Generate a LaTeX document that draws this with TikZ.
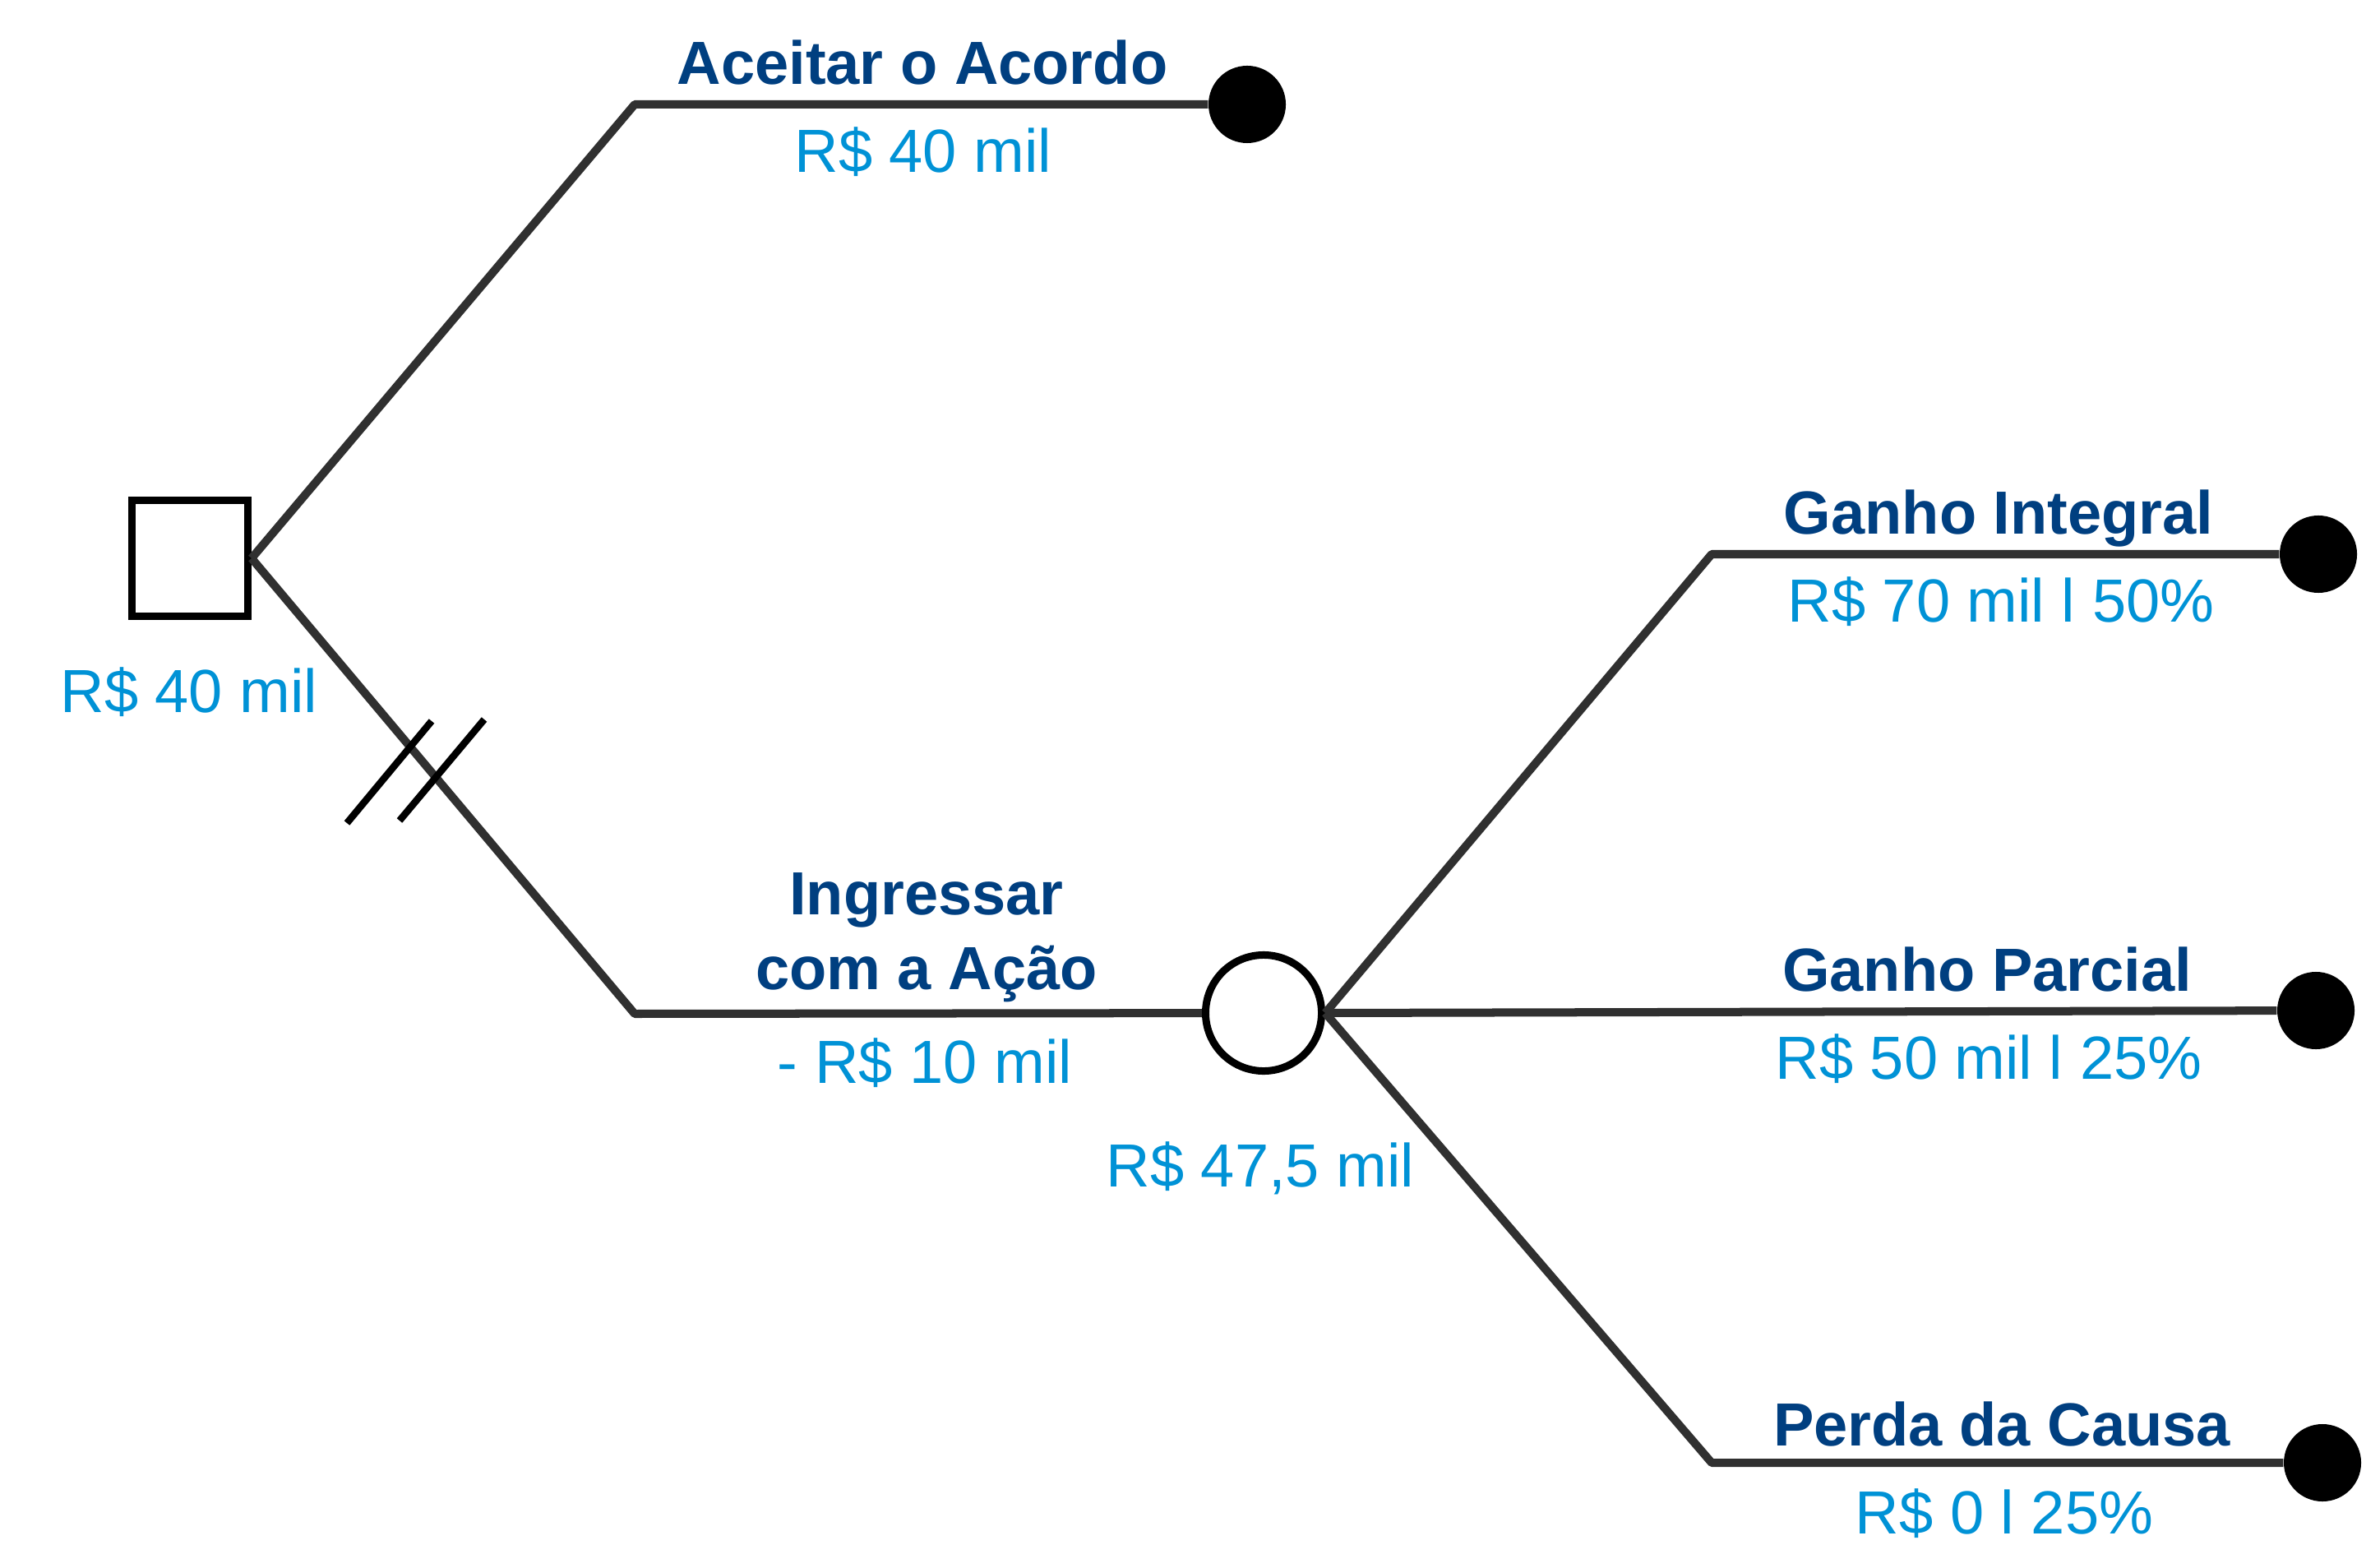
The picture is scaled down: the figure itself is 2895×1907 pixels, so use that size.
\documentclass[tikz,border=0pt]{standalone}
\usepackage{fontspec}
\setmainfont{Liberation Sans}
\usetikzlibrary{positioning}
\definecolor{optcolor}{RGB}{0,63,128}
\definecolor{valcolor}{RGB}{0,146,214}
\definecolor{linecolor}{RGB}{48,48,48}
\tikzset{
  decision/.style={draw=black, line width=0.09cm, minimum size=1.41cm, inner sep=0pt, fill=white},
  chance/.style={circle, draw=black, line width=0.09cm, minimum size=1.41cm, inner sep=0pt, fill=white},
  endpt/.style={circle, fill=black, minimum size=0.94cm, inner sep=0pt},
  branch/.style={draw=linecolor, line width=0.1cm, line join=round},
  cutmark/.style={draw=black, line width=0.085cm},
  optlbl/.style={anchor=base, inner sep=0pt, text=optcolor, align=center,
    font=\fontsize{21.06pt}{25.6pt}\selectfont\bfseries},
  vallbl/.style={anchor=base, inner sep=0pt, text=valcolor,
    font=\fontsize{21.06pt}{25.6pt}\selectfont},
}

\begin{document}
\begin{tikzpicture}[x=0.01cm, y=-0.01cm]
    \useasboundingbox (0,0) rectangle (2895,1907);
    % nodes of the tree
    \node[decision] (root) at (231,679) {};
    \node[chance] (acao) at (1537,1232) {};
    \node[endpt] (fimA) at (1517,127) {};
    \node[endpt] (fimG) at (2820,674) {};
    \node[endpt] (fimP) at (2817,1229) {};
    \node[endpt] (fimL) at (2825,1779) {};
    \coordinate (dobraA) at (772,127);
    \coordinate (dobraI) at (772,1233);
    \coordinate (dobraG) at (2082,674);
    \coordinate (dobraL) at (2082,1779);
    % branches
    \draw[branch] (root.east) -- (dobraA) -- (fimA);
    \draw[branch] (root.east) -- (dobraI) -- (acao);
    \draw[branch] (acao.east) -- (dobraG) -- (fimG);
    \draw[branch] (acao.east) -- (fimP);
    \draw[branch] (acao.east) -- (dobraL) -- (fimL);
    \draw[cutmark] (422,1001) -- (525,877);
    \draw[cutmark] (486,998) -- (589,875);
    % labels
    \node[vallbl] (vroot) at (230,866) {R\$ 40 mil};
    \node[optlbl] (oA) at (1122,103) {Aceitar o Acordo};
    \node[vallbl] (vA) at (1123,210) {R\$ 40 mil};
    \node[optlbl] (oI) at (1127,1203) {Ingressar\\com a Ação};
    \node[vallbl] (vI) at (1125,1317) {- R\$ 10 mil};
    \node[vallbl] (vacao) at (1533,1443) {R\$ 47,5 mil};
    \node[optlbl] (oG) at (2431,650) {Ganho Integral};
    \node[vallbl] (vG) at (2434,757) {R\$ 70 mil l 50\%};
    \node[optlbl] (oP) at (2417,1205) {Ganho Parcial};
    \node[vallbl] (vP) at (2419,1312) {R\$ 50 mil l 25\%};
    \node[optlbl] (oL) at (2435,1758) {Perda da Causa};
    \node[vallbl] (vL) at (2438,1865) {R\$ 0 l 25\%};
\end{tikzpicture}
\end{document}
